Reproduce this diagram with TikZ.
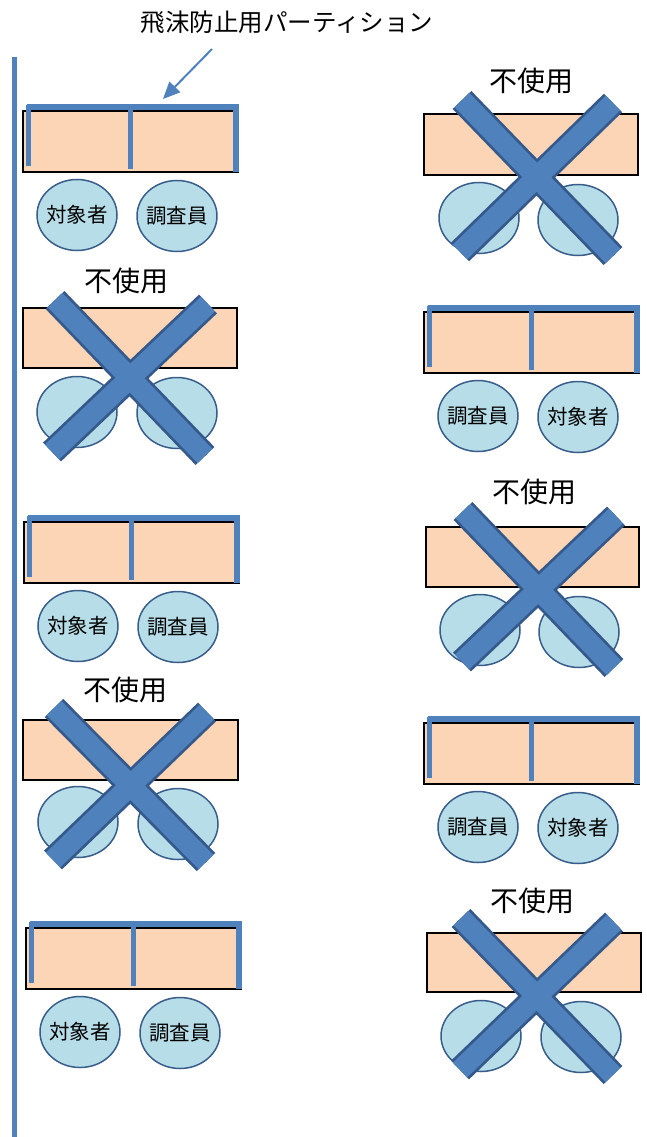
\documentclass[tikz,border=0pt]{standalone}
\usepackage{fontspec}
\setmainfont{Noto Sans CJK JP}
\usetikzlibrary{shapes.geometric,arrows.meta}
\definecolor{deskfill}{HTML}{FBD5B5}
\definecolor{seatfill}{HTML}{B7DEE8}
\definecolor{seatline}{HTML}{385D8A}
\definecolor{partblue}{HTML}{4F81BD}
\definecolor{xborder}{HTML}{35598A}
\tikzset{
  desk/.style={draw=black, line width=2pt, fill=deskfill},
  seat/.style={ellipse, draw=seatline, line width=1.5pt, fill=seatfill, minimum width=80pt, minimum height=71pt, inner sep=0pt},
  seattext/.style={font=\fontsize{20.5}{22}\selectfont, inner sep=0pt},
  part/.style={draw=partblue, line width=5.5pt},
  xout/.style={draw=xborder, line width=26pt},
  xin/.style={draw=partblue, line width=20.5pt},
  unused/.style={font=\fontsize{28}{30}\selectfont, inner sep=0pt},
}
% partition block: #1 name prefix, #2 x, #3 y (top-left of desk), #4 left text, #5 right text
\newcommand{\partblock}[5]{%
  \begin{scope}[shift={(#2,#3)}]
    \draw[desk] (0,0) rectangle (215,61);
    \draw[part] (4,-4) -- (216,-4);
    \draw[part] (5.5,-6) -- (5.5,55);
    \draw[part] (107.5,-6) -- (107.5,58);
    \draw[part] (213,-6) -- (213,61);
    \node[seat, label={[seattext]center:#4}] (#1a) at (54,104) {};
    \node[seat, label={[seattext]center:#5}] (#1b) at (154,105) {};
  \end{scope}}
\begin{document}
\begin{tikzpicture}[x=1pt,y=-1pt]
\useasboundingbox (0,0) rectangle (646,1137);
% wall
\coordinate (walltop) at (14.5,57);
\coordinate (wallbot) at (14.5,1137);
\draw[part] (walltop) -- (wallbot);
% title + arrow
\node[font=\fontsize{24.5}{26}\selectfont, inner sep=0pt] (title) at (287,22) {飛沫防止用パーティション};
\coordinate (arrfrom) at (212,49);
\coordinate (arrto) at (163,99);
\draw[draw=partblue, line width=2pt, -{Triangle[length=17pt,width=15pt]}] (arrfrom) -- (arrto);

% partition blocks
\partblock{L1}{23}{111}{対象者}{調査員}
\partblock{L3}{24}{522}{対象者}{調査員}
\partblock{L5}{26}{928}{対象者}{調査員}
\partblock{R2}{424}{312}{調査員}{対象者}
\partblock{R4}{424}{723}{調査員}{対象者}

% unused block R1
\draw[desk] (424,114) rectangle (638,175);
\node[seat] (R1a) at (479,218) {};
\node[seat] (R1b) at (578,220) {};
\node[unused] (R1t) at (531,81) {不使用};
\draw[xout] (462,100) -- (613,256) (613,103) -- (460,252);
\draw[xin] (462,100) -- (613,256) (613,103) -- (460,252);

% unused block L2
\draw[desk] (23,308) rectangle (237,368);
\node[seat] (L2a) at (77,412) {};
\node[seat] (L2b) at (177,413) {};
\node[unused] (L2t) at (126,281) {不使用};
\draw[xout] (55,300) -- (205,456) (208,304) -- (52,452);
\draw[xin] (55,300) -- (205,456) (208,304) -- (52,452);

% unused block R3
\draw[desk] (426,527) rectangle (639,587);
\node[seat] (R3a) at (480,630) {};
\node[seat] (R3b) at (579,632) {};
\node[unused] (R3t) at (534,492) {不使用};
\draw[xout] (463,511) -- (614,668) (616,516) -- (462,662);
\draw[xin] (463,511) -- (614,668) (616,516) -- (462,662);

% unused block L4
\draw[desk] (23,720) rectangle (238,780);
\node[seat] (L4a) at (78,822) {};
\node[seat] (L4b) at (178,824) {};
\node[unused] (L4t) at (125,690) {不使用};
\draw[xout] (54,708) -- (206,862) (207,712) -- (53,860);
\draw[xin] (54,708) -- (206,862) (207,712) -- (53,860);

% unused block R5
\draw[desk] (427,933) rectangle (641,992);
\node[seat] (R5a) at (481,1036) {};
\node[seat] (R5b) at (581,1037) {};
\node[unused] (R5t) at (532,901) {不使用};
\draw[xout] (461,918) -- (613,1075) (614,922) -- (460,1070);
\draw[xin] (461,918) -- (613,1075) (614,922) -- (460,1070);
\end{tikzpicture}
\end{document}
